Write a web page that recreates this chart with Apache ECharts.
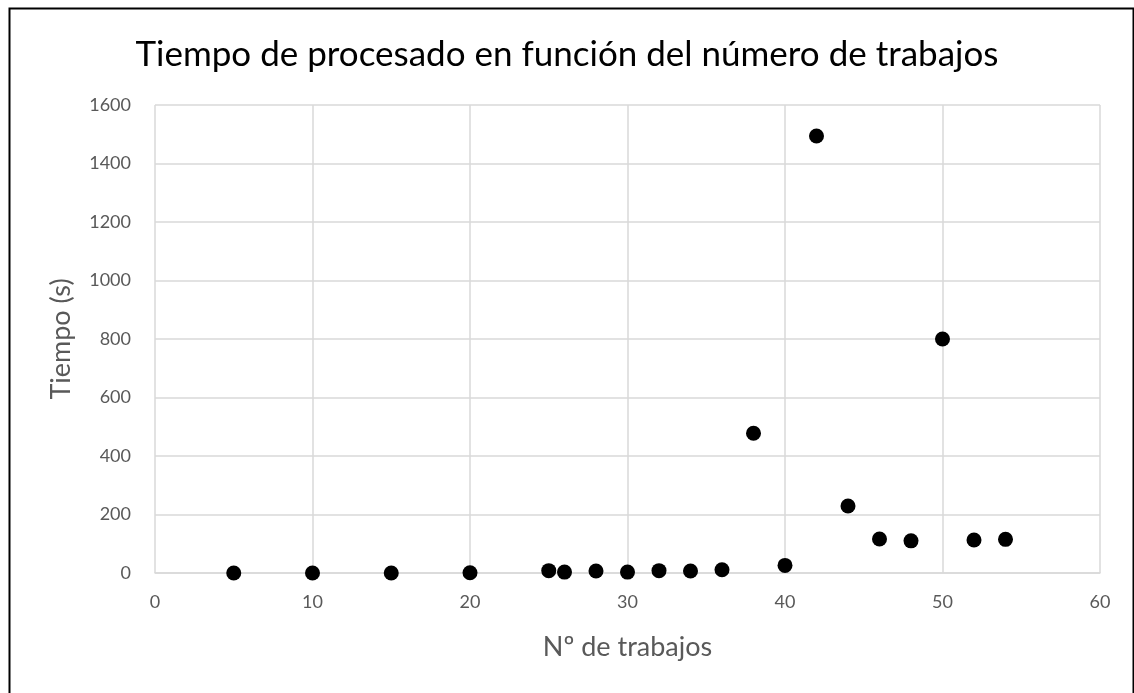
<!DOCTYPE html>
<html>
<head>
<meta charset="utf-8">
<script src="https://cdn.jsdelivr.net/npm/echarts@6/dist/echarts.min.js"></script>
<style>
html,body{margin:0;padding:0;background:#fff;}
#c{width:1134px;height:693px;}
</style>
</head>
<body>
<div id="c"></div>
<script>
var jobs = [5, 10, 15, 20, 25, 26, 28, 30, 32, 34, 36, 38, 40, 42, 44, 46, 48, 50, 52, 54];
var times = [0, 0, 0, 1, 8, 3, 7, 3, 8, 7, 11, 478, 26, 1494, 229, 116, 110, 800, 113, 115];
var titleText = 'Tiempo de procesado en función del número de trabajos';
var xName = 'Nº de trabajos';
var yName = 'Tiempo (s)';

var FONT = 'Lato';
var chart = echarts.init(document.getElementById('c'));
chart.setOption({
  backgroundColor: '#fff',
  animation: false,
  title: {
    text: titleText, left: 'center', top: 32,
    textStyle: { fontFamily: FONT, fontSize: 35, fontWeight: 'normal', color: '#000' }
  },
  graphic: [{
    type: 'rect', left: 7, top: 6, silent: true,
    shape: { width: 1124, height: 720 },
    style: { fill: 'none', stroke: '#000', lineWidth: 2 }
  }],
  grid: { left: 155, right: 34, top: 105, bottom: 120 },
  xAxis: {
    type: 'value', min: 0, max: 60, interval: 10,
    name: xName, nameLocation: 'middle', nameGap: 61,
    nameTextStyle: { fontFamily: FONT, fontSize: 27, color: '#595959' },
    axisLine: { show: true, lineStyle: { color: '#d9d9d9', width: 1.5 } },
    axisTick: { show: false },
    axisLabel: { fontFamily: FONT, fontSize: 18, color: '#595959', margin: 20 },
    splitLine: { show: true, lineStyle: { color: '#d9d9d9', width: 1.5 } }
  },
  yAxis: {
    type: 'value', min: 0, max: 1600, interval: 200,
    name: yName, nameLocation: 'middle', nameGap: 80,
    nameTextStyle: { fontFamily: FONT, fontSize: 27, color: '#595959' },
    axisLine: { show: false },
    axisTick: { show: false },
    axisLabel: { fontFamily: FONT, fontSize: 18, color: '#595959', margin: 24,
      formatter: function (v) { return String(v); } },
    splitLine: { show: true, lineStyle: { color: '#d9d9d9', width: 1.5 } }
  },
  series: [{
    type: 'scatter',
    data: jobs.map(function (x, i) { return [x, times[i]]; }),
    symbol: 'circle', symbolSize: 15,
    itemStyle: { color: '#000', opacity: 1 }
  }]
});
</script>
</body>
</html>
